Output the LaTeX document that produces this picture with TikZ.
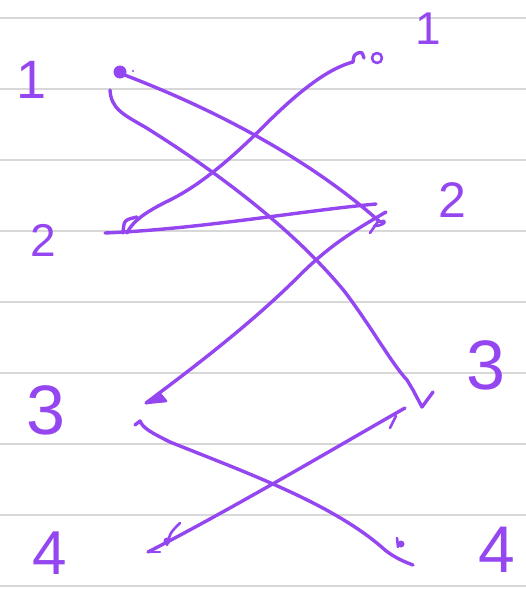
\documentclass[tikz,border=0pt]{standalone}
\usepackage{fontspec}
\setmainfont{Liberation Sans}
\definecolor{ink}{RGB}{148,70,240}
\definecolor{rulegray}{RGB}{216,216,216}
\begin{document}
\begin{tikzpicture}[x=1pt,y=-1pt,
  pen/.style={draw=ink,line width=3.4pt,line cap=round,line join=round},
  tip/.style={draw=ink,fill=ink,line width=2.6pt,line cap=round,line join=round},
  num/.style={text=ink,inner sep=0pt,font=\fontsize{#1}{#1}\selectfont},
  ruleline/.style={draw=rulegray,line width=1.5pt}]
\fill[white] (0,0) rectangle (526,589);
\useasboundingbox (0,0) rectangle (526,589);
\foreach \yy in {18,89,160,231,302,373,444,515,586} \draw[ruleline] (0,\yy) -- (526,\yy);

% labels
\node[num=54] (L1) at (32,80) {1};
\node[num=46] (R1) at (428,29) {1};
\node[num=46] (L2) at (43,240) {2};
\node[num=50] (R2) at (452,200) {2};
\node[num=70] (L3) at (46,410) {3};
\node[num=70] (R3) at (486,365) {3};
\node[num=62] (L4) at (50,553) {4};
\node[num=66] (R4) at (497,550) {4};

% endpoints
\coordinate (a1) at (122,74);
\coordinate (a2) at (380,222);
\coordinate (b1) at (110,90);
\coordinate (b2) at (422,407);
\coordinate (c1) at (353,62);
\coordinate (c2) at (127,233);
\coordinate (d1) at (105,233);
\coordinate (d2) at (376,204);
\coordinate (e1) at (146,403);
\coordinate (e2) at (386,212);
\coordinate (f1) at (135,425);
\coordinate (f2) at (413,565);
\coordinate (g1) at (405,408);
\coordinate (g2) at (148,552);

% A: left 1 -- right 2
\draw[pen] (a1) .. controls (230,115) and (320,168) .. (a2);
\fill[ink] (120,72) circle (6.5);
\fill[ink] (133,71) circle (1.2);
\draw[pen,line width=2.6pt] (a2) .. controls (388,218) and (386,226) .. (374,226);

% B: left 1 -- right 3
\draw[pen] (b1) .. controls (111,108) and (122,114) .. (145,127)
  .. controls (230,180) and (300,237) .. (345,292)
  .. controls (372,328) and (392,364) .. (407,380) -- (413,390) -- (b2) -- (433,392);

% C: right 1 -- left 2
\draw[pen] (c1) .. controls (354,55) .. (358,53) .. controls (362,52) .. (364,58);
\draw[pen,line width=2.6pt] (377,58) circle (5);
\draw[pen] (c1) .. controls (330,68) and (302,88) .. (265,125)
  .. controls (230,160) and (200,185) .. (170,200)
  .. controls (145,212) and (132,222) .. (c2);
\draw[pen] (137,217) .. controls (124,220) .. (123,233);

% D: left 2 -- right 2
\draw[pen] (d1) .. controls (200,229) and (300,211) .. (d2);

% E: right 2 -- left 3
\draw[pen] (e1) .. controls (190,370) and (250,325) .. (300,275)
  .. controls (330,245) and (355,230) .. (e2);
\draw[pen,line width=2.6pt] (370,233) -- (379,220);
\draw[tip] (e1) -- (160,394) -- (166,401) -- cycle;

% F: left 3 -- right 4
\draw[pen] (f1) -- (140,421) .. controls (143,428) and (150,432) .. (170,442)
  .. controls (250,474) and (335,505) .. (385,550)
  .. controls (395,558) and (405,562) .. (f2);
\draw[pen,line width=2.6pt] (397,538) -- (398,547);
\fill[ink] (401,544) circle (3.5);

% G: right 3 -- left 4
\draw[pen] (g1) .. controls (340,445) and (230,510) .. (g2);
\draw[pen,line width=2.6pt] (390,428) -- (396,416);
\draw[pen,line width=2.6pt] (g2) -- (160,552);
\draw[pen,line width=2.6pt] (180,523) .. controls (170,533) .. (167,545);
\fill[ink] (167,541) circle (3.5);
\end{tikzpicture}
\end{document}
